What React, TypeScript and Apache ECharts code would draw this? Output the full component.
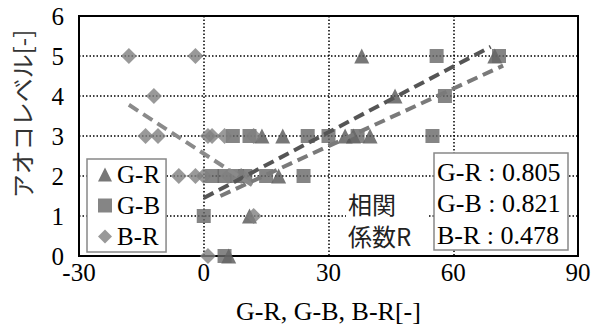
import React, { useEffect, useRef } from "react";
import * as echarts from "echarts";

const xTicks = { min: -30, max: 90, interval: 30 };
const yTicks = { min: 0, max: 6, interval: 1 };

const seriesNames = ["G-R", "G-B", "B-R"];

const grPoints: [number, number][] = [
  [6, 0], [11, 1], [18, 2], [14, 3], [19, 3], [34, 3], [36, 3], [40, 3], [46, 4], [38, 5], [70, 5],
];
const gbPoints: [number, number][] = [
  [5, 0], [0, 1], [2, 2], [5, 2], [8, 2], [10, 2], [15, 2], [24, 2], [7, 3], [11, 3], [25, 3], [30, 3], [37, 3], [55, 3], [58, 4], [56, 5], [71, 5],
];
const brPoints: [number, number][] = [
  [-18, 5], [-2, 5], [-12, 4], [-14, 3], [-11, 3], [1, 3], [2, 3], [5, 3], [12, 3], [-6, 2], [-2, 2], [0, 2], [6, 2], [9, 2], [12, 1], [1, 0],
];

// trend line end points
const grTrend: [number, number][] = [[0, 1.45], [69, 5.23]];
const gbTrend: [number, number][] = [[4, 1.5], [72, 4.76]];
const brTrend: [number, number][] = [[-18, 3.78], [12.7, 1.7]];

const corrLabels = ["G-R : 0.805", "G-B : 0.821", "B-R : 0.478"];
const corrTitle = ["相関", "係数R"];
const xName = "G-R, G-B, B-R[-]";
const yName = "アオコレベル[-]";

const SERIF = "Liberation Serif";
const JP = "Noto Sans CJK JP";

export default function App() {
  const ref = useRef<HTMLDivElement>(null);
  useEffect(() => {
    if (!ref.current) return;
    const chart = echarts.init(ref.current, undefined, { renderer: "svg" });
    const gridLine = { show: true, lineStyle: { color: "#000", width: 1.5, type: [1.5, 2] as any } };
    const scatterBase = { type: "scatter" as const, z: 3 };
    const trendBase = {
      type: "line" as const,
      symbol: "none",
      z: 5,
      silent: true,
    };
    chart.setOption({
      animation: false,
      grid: {
        left: 79,
        right: 22,
        top: 16,
        bottom: 68,
        show: true,
        borderColor: "#000",
        borderWidth: 2,
        backgroundColor: "#fff",
      },
      xAxis: {
        type: "value",
        ...xTicks,
        axisLine: { show: false },
        axisTick: { show: false },
        splitLine: gridLine,
        axisLabel: { fontSize: 25, fontFamily: SERIF, color: "#000", margin: 4 },
        name: xName,
        nameLocation: "middle",
        nameGap: 42,
        nameTextStyle: { fontSize: 26, fontFamily: SERIF, color: "#000" },
      },
      yAxis: {
        type: "value",
        ...yTicks,
        axisLine: { show: false },
        axisTick: { show: false },
        splitLine: gridLine,
        axisLabel: { fontSize: 25, fontFamily: SERIF, color: "#000", margin: 15 },
      },
      legend: {
        orient: "vertical",
        left: 87,
        top: 159,
        itemWidth: 14,
        itemHeight: 14,
        itemGap: 6,
        padding: [3, 6, 3, 11],
        borderColor: "#888",
        borderWidth: 1.5,
        backgroundColor: "#fff",
        textStyle: { fontSize: 25, fontFamily: SERIF, color: "#000" },
        data: seriesNames,
      },
      graphic: [
        {
          type: "text",
          x: 21,
          y: 114,
          rotation: Math.PI / 2,
          z: 100,
          style: {
            text: yName,
            fontSize: 24,
            fontFamily: JP,
            fill: "#333",
            align: "center",
            verticalAlign: "middle",
          },
        },
        {
          type: "rect",
          z: 100,
          shape: { x: 346, y: 188, width: 82, height: 62 },
          style: { fill: "#fff", stroke: null },
        },
        ...corrTitle.map((t, i) => ({
          type: "text",
          z: 101,
          x: 348,
          y: 203 + i * 32,
          style: {
            text: t,
            fontSize: 24,
            fontFamily: JP,
            fill: "#222",
            verticalAlign: "middle",
          },
        })),
        {
          type: "rect",
          z: 100,
          shape: { x: 434, y: 153, width: 134, height: 97 },
          style: { fill: "#fff", stroke: "#888", lineWidth: 1.5 },
        },
        ...corrLabels.map((t, i) => ({
          type: "text",
          z: 101,
          x: 437,
          y: 172 + i * 31.5,
          style: {
            text: t,
            fontSize: 26,
            fontFamily: SERIF,
            fill: "#000",
            verticalAlign: "middle",
          },
        })),
      ],
      series: [
        {
          ...scatterBase,
          name: "G-R",
          symbol: "triangle",
          symbolSize: 15,
          itemStyle: { color: "#555555" },
          data: grPoints,
        },
        {
          ...scatterBase,
          name: "G-B",
          symbol: "rect",
          symbolSize: 14,
          itemStyle: { color: "#676767" },
          data: gbPoints,
        },
        {
          ...scatterBase,
          name: "B-R",
          symbol: "diamond",
          symbolSize: 16,
          itemStyle: { color: "#808080" },
          data: brPoints,
        },
        {
          ...trendBase,
          name: "G-R trend",
          data: grTrend,
          lineStyle: { color: "#555555", width: 4, type: [11, 6] as any },
        },
        {
          ...trendBase,
          name: "G-B trend",
          data: gbTrend,
          lineStyle: { color: "#7a7a7a", width: 4, type: [11, 6] as any },
        },
        {
          ...trendBase,
          name: "B-R trend",
          data: brTrend,
          lineStyle: { color: "#8a8a8a", width: 4, type: [11, 6] as any },
        },
      ],
    });
    return () => chart.dispose();
  }, []);
  return <div ref={ref} style={{ width: 600, height: 329, position: "absolute", left: 0, top: 0 }} />;
}
